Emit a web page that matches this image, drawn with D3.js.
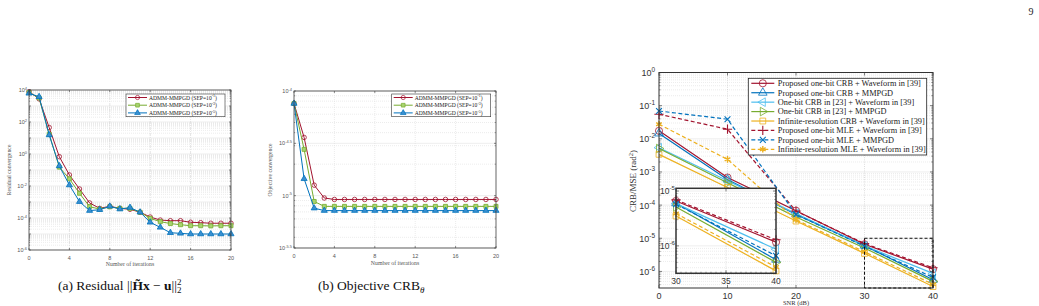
<!DOCTYPE html>
<html>
<head>
<meta charset="utf-8">
<script src="https://cdn.jsdelivr.net/npm/d3@7"></script>
<style>
  body { margin: 0; background: #fff; }
  svg { display: block; }
</style>
</head>
<body>
<svg id="fig" width="1039" height="306"></svg>
<script>
// ---------- datos (a): residual ----------
const iterations = [0, 1, 2, 3, 4, 5, 6, 7, 8, 9, 10, 11, 12, 13, 14, 15, 16, 17, 18, 19, 20];
const residualSep1 = [7.9e3, 2.8e3, 45, 0.68, 0.049, 6.5e-3, 8.7e-4, 4.0e-4, 5.4e-4, 4.0e-4, 3.5e-4, 2.3e-4, 1.15e-4, 7.4e-5, 6.8e-5, 6.8e-5, 5.4e-5, 5.1e-5, 4.7e-5, 4.7e-5, 4.7e-5];
const residualSep3 = [7.1e3, 3.2e3, 17, 0.15, 0.028, 3.5e-3, 5.1e-4, 3.6e-4, 5.0e-4, 4.0e-4, 4.0e-4, 2.3e-4, 9.5e-5, 5.9e-5, 4.5e-5, 3.8e-5, 3.3e-5, 3.3e-5, 3.2e-5, 3.3e-5, 3.3e-5];
const residualSep5 = [6.2e3, 3.8e3, 15.5, 0.18, 0.0115, 1.05e-3, 2.9e-4, 3.3e-4, 5.4e-4, 3.6e-4, 4.5e-4, 2.3e-4, 5.4e-5, 2.6e-5, 1.2e-5, 1.1e-5, 1.0e-5, 1.0e-5, 1.0e-5, 1.0e-5, 1.0e-5];

// ---------- datos (b): objetivo ----------
const objectiveSep1 = [7.6e-5, 3.6e-5, 1.26e-5, 9.5e-6, 9.2e-6, 9.2e-6, 9.2e-6, 9.2e-6, 9.2e-6, 9.2e-6, 9.2e-6, 9.2e-6, 9.2e-6, 9.2e-6, 9.2e-6, 9.2e-6, 9.2e-6, 9.2e-6, 9.2e-6, 9.2e-6, 9.2e-6];
const objectiveSep3 = [7.6e-5, 2.77e-5, 8.8e-6, 7.9e-6, 7.9e-6, 7.9e-6, 7.9e-6, 7.9e-6, 7.9e-6, 7.9e-6, 7.9e-6, 7.9e-6, 7.9e-6, 7.9e-6, 7.9e-6, 7.9e-6, 7.9e-6, 7.9e-6, 7.9e-6, 7.9e-6, 7.9e-6];
const objectiveSep5 = [7.6e-5, 1.45e-5, 7.6e-6, 7.2e-6, 7.2e-6, 7.2e-6, 7.2e-6, 7.2e-6, 7.2e-6, 7.2e-6, 7.2e-6, 7.2e-6, 7.2e-6, 7.2e-6, 7.2e-6, 7.2e-6, 7.2e-6, 7.2e-6, 7.2e-6, 7.2e-6, 7.2e-6];
const sepExponents = ["-1", "-3", "-5"];
const iterationTicks = [0, 4, 8, 12, 16, 20];

// ---------- datos (c): CRB / MSE ----------
const snrDb = [0, 10, 20, 30, 40];
const crbProposedWaveform = [1.74e-2, 6.8e-4, 6.8e-5, 6.6e-6, 1.17e-6];
const crbProposedMmpgd = [1.45e-2, 5.9e-4, 5.2e-5, 6.0e-6, 5.6e-7];
const crbRef23Waveform = [5.4e-3, 5.4e-4, 5.6e-5, 5.9e-6, 8.7e-7];
const crbRef23Mmpgd = [5.1e-3, 4.7e-4, 4.4e-5, 5.1e-6, 5.0e-7];
const crbInfiniteWaveform = [3.4e-3, 3.4e-4, 3.3e-5, 3.5e-6, 3.5e-7];
const mleProposedWaveform = [5.5e-2, 1.95e-2, 6.6e-5, 6.9e-6, 1.29e-6];
const mleProposedMmpgd = [6.9e-2, 3.9e-2, 5.2e-5, 5.75e-6, 6.6e-7];
const mleInfiniteWaveform = [2.75e-2, 2.4e-3, 3.6e-5, 3.9e-6, 4.1e-7];
const legendLabelsC = [
  "Proposed one-bit CRB + Waveform in [39]",
  "Proposed one-bit CRB + MMPGD",
  "One-bit CRB in [23] + Waveform in [39]",
  "One-bit CRB in [23] + MMPGD",
  "Infinite-resolution CRB + Waveform in [39]",
  "Proposed one-bit MLE + Waveform in [39]",
  "Proposed one-bit MLE + MMPGD",
  "Infinite-resolution MLE + Waveform in [39]"
];
const snrTicks = [0, 10, 20, 30, 40];
const insetTicks = [30, 35, 40];

const serif = "'Liberation Serif', 'Times New Roman', serif";
const sans = "'Liberation Sans', Arial, sans-serif";
const RED = "#A2142F", GREEN = "#77AC30", BLUE = "#0072BD", CYAN = "#4DBEEE", YELLOW = "#EDB120";

const svg = d3.select("#fig");

// minor ticks of a log axis (2..9 x 10^k) inside the domain
function logMinor(domain) {
  const out = [];
  const lo = Math.log10(domain[0]), hi = Math.log10(domain[1]);
  for (let k = Math.floor(lo); k < Math.ceil(hi); k++) {
    for (let m = 2; m <= 9; m++) {
      const v = m * Math.pow(10, k);
      if (Math.log10(v) > lo + 1e-9 && Math.log10(v) < hi - 1e-9) out.push(v);
    }
  }
  return out;
}
function logMajor(domain) {
  const out = [];
  const lo = Math.log10(domain[0]), hi = Math.log10(domain[1]);
  for (let k = Math.ceil(lo - 1e-9); k <= Math.floor(hi + 1e-9); k++) out.push(Math.pow(10, k));
  return out;
}

// "10" with superscript exponent
function powerLabel(sel, exp, fs) {
  sel.append("tspan").text("10");
  sel.append("tspan").attr("dy", -fs * 0.45).attr("font-size", fs * 0.72).text(exp);
}

// grid of one axes
function drawAxes(g, x, y, o) {
  const [x0, x1] = x.range();
  const [yb, yt] = y.range();
  // minor horizontal grid
  g.selectAll(null).data(o.yMinor).enter().append("line")
    .attr("x1", x0).attr("x2", x1).attr("y1", d => y(d)).attr("y2", d => y(d))
    .style("stroke", "#d9d9d9").style("stroke-width", 0.5).style("stroke-dasharray", "1,1");
  // major horizontal grid
  g.selectAll(null).data(o.yMajor).enter().append("line")
    .attr("x1", x0).attr("x2", x1).attr("y1", d => y(d)).attr("y2", d => y(d))
    .style("stroke", "#e3e3e3").style("stroke-width", 0.6);
  // vertical grid
  g.selectAll(null).data(o.xGrid).enter().append("line")
    .attr("x1", d => x(d)).attr("x2", d => x(d)).attr("y1", yb).attr("y2", yt)
    .style("stroke", o.vGridColor || "#d0d0d0").style("stroke-width", 0.6)
    .style("stroke-dasharray", o.vGridDash || "3,1,1,1");
}

// box + inward ticks
function drawBox(g, x, y, o) {
  const [x0, x1] = x.range();
  const [yb, yt] = y.range();
  const col = o.axisColor || "#404040";
  const tl = o.tickLen, tm = o.minorLen;
  o.yTicks.forEach(v => {
    g.append("line").attr("x1", x0).attr("x2", x0 + tl).attr("y1", y(v)).attr("y2", y(v)).style("stroke", col).style("stroke-width", 0.6);
    g.append("line").attr("x1", x1).attr("x2", x1 - tl).attr("y1", y(v)).attr("y2", y(v)).style("stroke", col).style("stroke-width", 0.6);
  });
  o.yMinorTicks.forEach(v => {
    g.append("line").attr("x1", x0).attr("x2", x0 + tm).attr("y1", y(v)).attr("y2", y(v)).style("stroke", col).style("stroke-width", 0.5);
    g.append("line").attr("x1", x1).attr("x2", x1 - tm).attr("y1", y(v)).attr("y2", y(v)).style("stroke", col).style("stroke-width", 0.5);
  });
  o.xTicks.forEach(v => {
    g.append("line").attr("x1", x(v)).attr("x2", x(v)).attr("y1", yb).attr("y2", yb - tl).style("stroke", col).style("stroke-width", 0.6);
    g.append("line").attr("x1", x(v)).attr("x2", x(v)).attr("y1", yt).attr("y2", yt + tl).style("stroke", col).style("stroke-width", 0.6);
  });
  (o.xMinorTicks || []).forEach(v => {
    g.append("line").attr("x1", x(v)).attr("x2", x(v)).attr("y1", yb).attr("y2", yb - tm).style("stroke", col).style("stroke-width", 0.5);
  });
  g.append("rect").attr("x", x0).attr("y", yt).attr("width", x1 - x0).attr("height", yb - yt)
    .style("fill", "none").style("stroke", col).style("stroke-width", o.boxWidth || 0.8);
}

function drawSeries(g, x, y, xs, s, size) {
  const line = d3.line().x((d, i) => x(xs[i])).y(d => y(d));
  g.append("path").datum(s.values).attr("d", line)
    .style("fill", "none").style("stroke", s.color).style("stroke-width", s.width || 1)
    .style("stroke-dasharray", s.dash || null);
  g.selectAll(null).data(s.values).enter().append("path")
    .attr("d", d3.symbol().type(s.symbol).size(s.size || size))
    .attr("transform", (d, i) => `translate(${x(xs[i])},${y(d)}) rotate(${s.rotate || 0})`)
    .style("fill", s.fill || "none").style("stroke", s.color).style("stroke-width", s.mw || 0.8);
}

function drawSmallLegend(g, x0, y0, series) {
  g.append("rect").attr("x", x0).attr("y", y0).attr("width", 99).attr("height", 22.7)
    .style("fill", "#fff").style("stroke", "#333").style("stroke-width", 0.6);
  series.forEach((s, i) => {
    const yy = y0 + 3.5 + i * 7.7;
    g.append("line").attr("x1", x0 + 2).attr("x2", x0 + 21).attr("y1", yy).attr("y2", yy)
      .style("stroke", s.color).style("stroke-width", 1);
    g.append("path").attr("d", d3.symbol().type(s.symbol).size(14)())
      .attr("transform", `translate(${x0 + 11.5},${yy})`)
      .style("fill", s.fill || "none").style("stroke", s.color).style("stroke-width", 0.7);
    const t = g.append("text").attr("x", x0 + 23).attr("y", yy + 2)
      .style("font-family", serif).style("font-size", "5.6px").style("fill", "#222");
    t.append("tspan").text("ADMM-MMPGD (SEP=10");
    t.append("tspan").attr("dy", -2.2).attr("font-size", 4).text(sepExponents[i]);
    t.append("tspan").attr("dy", 2.2).text(")");
  });
}

function threeSeries(a, b, c) {
  return [
    { values: a, color: RED, symbol: d3.symbolCircle, fill: "none" },
    { values: b, color: GREEN, symbol: d3.symbolSquare, fill: "#a8d46f" },
    { values: c, color: BLUE, symbol: d3.symbolTriangle, fill: "#3a8fd0" }
  ];
}

// ---------- panel (a) ----------
(function () {
  const g = svg.append("g");
  const x = d3.scaleLinear().domain([0, 20]).range([29, 231]);
  const y = d3.scaleLog().domain([1e-6, 1e4]).range([250, 90]);
  const yMajor = logMajor(y.domain());
  drawAxes(g, x, y, { yMinor: logMinor(y.domain()), yMajor: yMajor, xGrid: [4, 8, 12, 16] });
  const series = threeSeries(residualSep1, residualSep3, residualSep5);
  series.forEach(s => drawSeries(g, x, y, iterations, s, 16));
  drawBox(g, x, y, { yTicks: yMajor, yMinorTicks: logMinor(y.domain()), xTicks: iterationTicks, tickLen: 2, minorLen: 1.2 });
  drawSmallLegend(g, 126, 94, series);
  g.selectAll(null).data(iterationTicks).enter().append("text")
    .attr("x", d => x(d)).attr("y", 259.5).attr("text-anchor", "middle")
    .style("font-family", sans).style("font-size", "5.5px").style("fill", "#555").text(d => d);
  [-6, -4, -2, 0, 2, 4].forEach(e => {
    const t = g.append("text").attr("x", 27).attr("y", y(Math.pow(10, e)) + 2).attr("text-anchor", "end")
      .style("font-family", sans).style("font-size", "5.5px").style("fill", "#555");
    powerLabel(t, e, 5.5);
  });
  g.append("text").attr("x", 130).attr("y", 266).attr("text-anchor", "middle")
    .style("font-family", serif).style("font-size", "5.8px").style("fill", "#555").text("Number of iterations");
  g.append("text").attr("transform", "translate(11,170) rotate(-90)").attr("text-anchor", "middle")
    .style("font-family", serif).style("font-size", "5.8px").style("fill", "#555").text("Residual convergence");
  // caption
  const c = g.append("text").attr("x", 58).attr("y", 290)
    .style("font-family", serif).style("font-size", "13.5px").style("fill", "#111");
  c.append("tspan").text("(a) Residual ||");
  c.append("tspan").style("font-weight", "bold").text("H\u0303x");
  c.append("tspan").text(" \u2212 ");
  c.append("tspan").style("font-weight", "bold").text("u");
  c.append("tspan").text("||");
  c.append("tspan").attr("dy", -5).attr("font-size", 9).text("2");
  c.append("tspan").attr("dx", -4.5).attr("dy", 8).attr("font-size", 9).text("2");
})();

// ---------- panel (b) ----------
(function () {
  const g = svg.append("g");
  const x = d3.scaleLinear().domain([0, 20]).range([294, 496]);
  const y = d3.scaleLog().domain([Math.pow(10, -5.5), 1e-4]).range([248, 91]);
  const halfTicks = [-5.5, -5, -4.5, -4];
  drawAxes(g, x, y, { yMinor: logMinor(y.domain()), yMajor: halfTicks.map(e => Math.pow(10, e)), xGrid: [4, 8, 12, 16], vGridDash: "1,1", vGridColor: "#dedede" });
  const series = threeSeries(objectiveSep1, objectiveSep3, objectiveSep5);
  series.forEach(s => drawSeries(g, x, y, iterations, s, 16));
  drawBox(g, x, y, { yTicks: halfTicks.map(e => Math.pow(10, e)), yMinorTicks: logMinor(y.domain()), xTicks: iterationTicks, tickLen: 2, minorLen: 1.2 });
  drawSmallLegend(g, 391.7, 94, series);
  g.selectAll(null).data(iterationTicks).enter().append("text")
    .attr("x", d => x(d)).attr("y", 257.5).attr("text-anchor", "middle")
    .style("font-family", sans).style("font-size", "5.5px").style("fill", "#555").text(d => d);
  halfTicks.forEach(e => {
    const t = g.append("text").attr("x", 292).attr("y", y(Math.pow(10, e)) + 2).attr("text-anchor", "end")
      .style("font-family", sans).style("font-size", "5.5px").style("fill", "#555");
    powerLabel(t, e, 5.5);
  });
  g.append("text").attr("x", 395).attr("y", 265).attr("text-anchor", "middle")
    .style("font-family", serif).style("font-size", "5.8px").style("fill", "#555").text("Number of iterations");
  g.append("text").attr("transform", "translate(272,170) rotate(-90)").attr("text-anchor", "middle")
    .style("font-family", serif).style("font-size", "5.8px").style("fill", "#555").text("Objective convergence");
  const c = g.append("text").attr("x", 318).attr("y", 290)
    .style("font-family", serif).style("font-size", "13.5px").style("fill", "#111");
  c.append("tspan").text("(b) Objective CRB");
  c.append("tspan").attr("dy", 3).attr("font-size", 9).style("font-style", "italic").text("\u03B8");
})();

// ---------- panel (c) ----------
(function () {
  const g = svg.append("g");
  const x = d3.scaleLinear().domain([0, 40]).range([659, 933]);
  const y = d3.scaleLog().domain([Math.pow(10, -6.5), 1]).range([288, 72.5]);
  const yMajor = logMajor(y.domain());
  const yMinor = logMinor(y.domain());
  drawAxes(g, x, y, { yMinor: yMinor, yMajor: yMajor, xGrid: [10, 20, 30], vGridDash: "1,1.2", vGridColor: "#c8c8c8" });

  const series = [
    { values: crbProposedWaveform, color: RED, symbol: d3.symbolCircle, size: 40 },
    { values: crbProposedMmpgd, color: BLUE, symbol: d3.symbolTriangle, size: 32 },
    { values: crbRef23Waveform, color: CYAN, symbol: d3.symbolTriangle, rotate: -90, size: 32 },
    { values: crbRef23Mmpgd, color: GREEN, symbol: d3.symbolTriangle, rotate: 90, size: 32 },
    { values: crbInfiniteWaveform, color: YELLOW, symbol: d3.symbolSquare, size: 34 },
    { values: mleProposedWaveform, color: RED, symbol: d3.symbolPlus, size: 30, dash: "4,2.5", mw: 1.1 },
    { values: mleProposedMmpgd, color: BLUE, symbol: d3.symbolTimes, size: 24, dash: "4,2.5", mw: 1.1 },
    { values: mleInfiniteWaveform, color: YELLOW, symbol: d3.symbolAsterisk, size: 30, dash: "4,2.5", mw: 1.4 }
  ];
  series.forEach(s => { s.width = 1.2; drawSeries(g, x, y, snrDb, s, 30); });

  drawBox(g, x, y, { yTicks: yMajor, yMinorTicks: yMinor, xTicks: snrTicks, tickLen: 3, minorLen: 1.6, axisColor: "#333", boxWidth: 1 });

  // zoom rectangle
  g.append("rect").attr("x", x(30)).attr("y", y(1e-5)).attr("width", x(40) - x(30)).attr("height", 288 - y(1e-5))
    .style("fill", "none").style("stroke", "#111").style("stroke-width", 1).style("stroke-dasharray", "3,2");

  g.selectAll(null).data(snrTicks).enter().append("text")
    .attr("x", d => x(d)).attr("y", 298.5).attr("text-anchor", "middle")
    .style("font-family", sans).style("font-size", "9px").style("fill", "#333").text(d => d);
  [0, -1, -2, -3, -4, -5, -6].forEach(e => {
    const t = g.append("text").attr("x", 655).attr("y", y(Math.pow(10, e)) + 3.5).attr("text-anchor", "end")
      .style("font-family", sans).style("font-size", "9px").style("fill", "#333");
    powerLabel(t, e, 9);
  });
  g.append("text").attr("x", 796).attr("y", 305).attr("text-anchor", "middle")
    .style("font-family", serif).style("font-size", "6.5px").style("fill", "#333").text("SNR (dB)");
  const yl = g.append("text").attr("transform", "translate(636,181) rotate(-90)").attr("text-anchor", "middle")
    .style("font-family", serif).style("font-size", "9px").style("fill", "#333");
  yl.append("tspan").text("CRB/MSE (rad");
  yl.append("tspan").attr("dy", -3).attr("font-size", 6.5).text("2");
  yl.append("tspan").attr("dy", 3).text(")");

  // ---------- inset ----------
  const gi = g.append("g");
  const xi = d3.scaleLinear().domain([30, 40]).range([676, 776]);
  const yi = d3.scaleLog().domain([Math.pow(10, -6.5), Math.pow(10, -4.95)]).range([273.3, 188.3]);
  gi.append("rect").attr("x", 676).attr("y", 188.3).attr("width", 100).attr("height", 85).style("fill", "#fff");
  const yiMinor = logMinor(yi.domain());
  drawAxes(gi, xi, yi, { yMinor: yiMinor, yMajor: logMajor(yi.domain()), xGrid: [35], vGridDash: "1,1.2", vGridColor: "#c8c8c8" });
  series.forEach(s => drawSeries(gi, xi, yi, snrDb.slice(3), Object.assign({}, s, { values: s.values.slice(3) }), 30));
  drawBox(gi, xi, yi, { yTicks: logMajor(yi.domain()), yMinorTicks: yiMinor, xTicks: insetTicks,
    xMinorTicks: d3.range(30.5, 40, 0.5), tickLen: 3, minorLen: 1.6, axisColor: "#333", boxWidth: 1.5 });
  gi.selectAll(null).data(insetTicks).enter().append("text")
    .attr("x", d => xi(d)).attr("y", 284).attr("text-anchor", "middle")
    .style("font-family", sans).style("font-size", "8.5px").style("fill", "#333").text(d => d);
  [-5, -6].forEach(e => {
    const t = gi.append("text").attr("x", 675).attr("y", yi(Math.pow(10, e)) + 3).attr("text-anchor", "end")
      .style("font-family", sans).style("font-size", "8.5px").style("fill", "#333");
    powerLabel(t, e, 8.5);
  });

  // ---------- legend ----------
  const lx = 748.3, ly = 78.3;
  g.append("rect").attr("x", lx).attr("y", ly).attr("width", 178.4).attr("height", 76.7)
    .style("fill", "#fff").style("stroke", "#222").style("stroke-width", 0.8);
  series.forEach((s, i) => {
    const yy = ly + 5 + i * 9.43;
    g.append("line").attr("x1", lx + 3).attr("x2", lx + 26).attr("y1", yy).attr("y2", yy)
      .style("stroke", s.color).style("stroke-width", 1.2).style("stroke-dasharray", s.dash || null);
    g.append("path").attr("d", d3.symbol().type(s.symbol).size(s.size)())
      .attr("transform", `translate(${lx + 14.5},${yy}) rotate(${s.rotate || 0})`)
      .style("fill", "none").style("stroke", s.color).style("stroke-width", s.mw || 0.8);
    g.append("text").attr("x", lx + 29.5).attr("y", yy + 2.8)
      .style("font-family", serif).style("font-size", "8.3px").style("fill", "#222").text(legendLabelsC[i]);
  });
})();

// page number
svg.append("text").attr("x", 1031).attr("y", 15).attr("text-anchor", "middle")
  .style("font-family", serif).style("font-size", "10px").style("fill", "#222").text("9");
</script>
</body>
</html>
